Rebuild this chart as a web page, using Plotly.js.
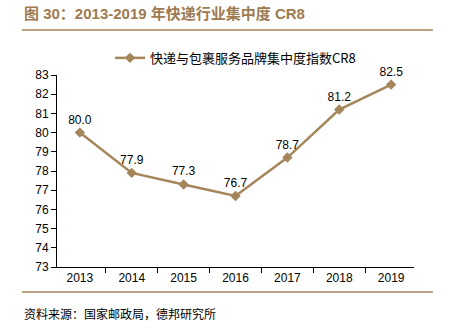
<!DOCTYPE html>
<html><head><meta charset="utf-8">
<script src="https://cdn.plot.ly/plotly-3.0.1.min.js"></script>
<style>body{margin:0;background:#fff}#c{width:449px;height:332px}</style>
</head><body><div id="c"></div>
<script>
const years = ['2013','2014','2015','2016','2017','2018','2019'];
const cr8 = [80.0, 77.9, 77.3, 76.7, 78.7, 81.2, 82.5];
const labels = ['80.0','77.9','77.3','76.7','78.7','81.2','82.5'];
const seriesName = '快递与包裹服务品牌集中度指数CR8';
const col = '#a5855a';
const fnt = 'Liberation Sans, Arial, Noto Sans CJK SC, sans-serif';
const trace = {
  x: years, y: cr8, type: 'scatter', mode: 'lines+markers+text',
  name: seriesName, text: labels, textposition: 'top center',
  textfont: {size: 12, color: '#000', family: fnt},
  line: {color: col, width: 2.5}, marker: {symbol: 'diamond', size: 8, color: col},
  cliponaxis: false
};
const layout = {
  width: 449, height: 332,
  margin: {l: 57, r: 35, t: 75, b: 65},
  paper_bgcolor: '#fff', plot_bgcolor: '#fff',
  font: {family: fnt, size: 12, color: '#000'},
  showlegend: true,
  legend: {orientation: 'h', x: 0.5, xanchor: 'center', y: 1.089, yanchor: 'middle',
           font: {size: 13, family: 'Noto Sans CJK SC, sans-serif', color: '#000'}, bgcolor: 'rgba(0,0,0,0)'},
  xaxis: {type: 'category', showline: true, linecolor: '#000', linewidth: 1,
          ticks: 'outside', tickson: 'boundaries', ticklen: 5, tickcolor: '#000',
          showgrid: false, zeroline: false, tickfont: {size: 12}},
  yaxis: {range: [73, 83], dtick: 1, showline: true, linecolor: '#000', linewidth: 1,
          ticks: 'outside', ticklen: 5, tickcolor: '#000', showgrid: false, zeroline: false,
          tickfont: {size: 12}},
  shapes: [
    {type: 'line', xref: 'paper', yref: 'paper', x0: -0.098, x1: 1.053, y0: 1.234, y1: 1.234,
     line: {color: '#a5855a', width: 1.5}},
    {type: 'line', xref: 'paper', yref: 'paper', x0: -0.098, x1: 1.053, y0: -0.130, y1: -0.130,
     line: {color: '#a5855a', width: 1.5}}
  ],
  annotations: [
    {xref: 'paper', yref: 'paper', x: -0.098, y: 1.318, xanchor: 'left', yanchor: 'middle',
     showarrow: false, text: '<b>图 30：2013-2019 年快递行业集中度 CR8</b>',
     font: {size: 15, color: '#9e7b50', family: 'Liberation Sans, Arial, Noto Sans CJK SC, sans-serif'}},
    {xref: 'paper', yref: 'paper', x: -0.098, y: -0.24, xanchor: 'left', yanchor: 'middle',
     showarrow: false, text: '资料来源：国家邮政局，德邦研究所',
     font: {size: 12, color: '#000', family: 'Noto Sans CJK SC, sans-serif'}}
  ]
};
Plotly.newPlot('c', [trace], layout, {staticPlot: true});
</script></body></html>
